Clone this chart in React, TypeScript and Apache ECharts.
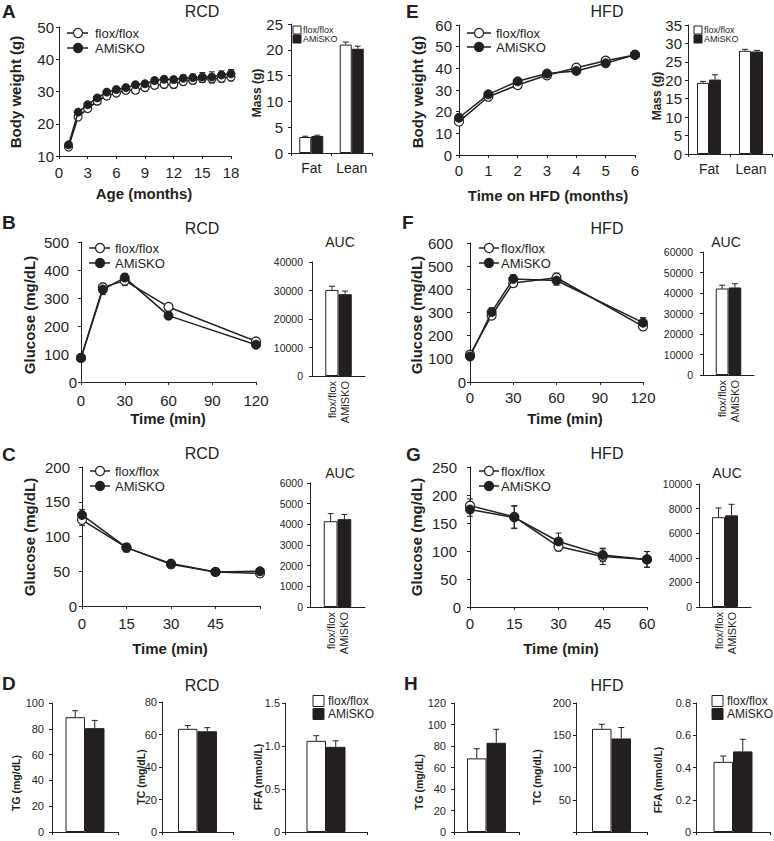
import React, { useEffect, useRef } from "react";
import * as echarts from "echarts";

const FONT = "'Liberation Sans', Arial, Helvetica, sans-serif";
const INK = "#231f20";

// ---------- Panel A (RCD body weight) ----------
const aMonths = [1, 2, 3, 4, 5, 6, 7, 8, 9, 10, 11, 12, 13, 14, 15, 16, 17, 18];
const aFlox = [12.8, 22.1, 24.7, 27.0, 28.6, 29.5, 30.4, 30.4, 31.2, 31.9, 32.2, 32.2, 33.1, 33.5, 34.0, 33.9, 34.1, 34.5];
const aFloxErr = [0.6, 0.8, 0.8, 0.8, 0.9, 0.9, 0.9, 0.9, 1.0, 1.0, 1.0, 1.1, 1.1, 1.2, 1.2, 1.2, 1.2, 1.2];
const aKo = [13.5, 23.6, 25.9, 28.0, 29.8, 30.6, 31.2, 32.1, 32.4, 33.4, 33.8, 33.7, 34.1, 34.3, 34.5, 34.5, 35.1, 35.5];
const aKoErr = [0.6, 0.8, 0.8, 0.8, 0.8, 0.8, 0.8, 0.8, 0.8, 0.9, 0.9, 0.9, 1.0, 1.1, 1.4, 1.6, 1.3, 1.3];
const massCats = ["Fat", "Lean"];
const aMassFlox = [3.1, 21.0];
const aMassFloxErr = [0.15, 0.5];
const aMassKo = [3.3, 20.2];
const aMassKoErr = [0.15, 0.5];

// ---------- Panel E (HFD body weight) ----------
const eMonths = [0, 1, 2, 3, 4, 5, 6];
const eFlox = [15.4, 26.9, 32.3, 36.8, 40.3, 43.5, 46.2];
const eFloxErr = [1.2, 1.0, 1.0, 1.0, 1.2, 1.0, 1.0];
const eKo = [17.2, 28.0, 34.0, 37.6, 38.8, 42.3, 46.3];
const eKoErr = [1.2, 1.0, 1.0, 1.2, 1.2, 1.0, 1.0];
const eMassFlox = [19.3, 28.0];
const eMassFloxErr = [0.4, 0.4];
const eMassKo = [20.2, 27.8];
const eMassKoErr = [1.3, 0.3];

// ---------- GTT (B: RCD, F: HFD) ----------
const gttTime = [0, 15, 30, 60, 120];
const bFlox = [86, 338, 362, 268, 145];
const bFloxErr = [8, 15, 18, 10, 8];
const bKo = [86, 330, 373, 237, 133];
const bKoErr = [8, 18, 15, 12, 8];
const bAuc = [30200, 28700];
const bAucErr = [1300, 1100];
const fFlox = [118, 287, 427, 450, 240];
const fFloxErr = [10, 15, 15, 20, 18];
const fKo = [110, 302, 445, 438, 256];
const fKoErr = [8, 18, 18, 20, 22];
const fAuc = [42200, 42700];
const fAucErr = [1600, 1800];

// ---------- ITT (C: RCD, G: HFD) ----------
const ittTime = [0, 15, 30, 45, 60];
const cFlox = [124, 84, 60, 49, 47];
const cFloxErr = [8, 6, 5, 4, 4];
const cKo = [131, 84, 61, 49, 50];
const cKoErr = [8, 6, 5, 4, 3];
const cAuc = [4150, 4250];
const cAucErr = [370, 230];
const gFlox = [181, 161, 108, 90, 85];
const gFloxErr = [12, 20, 8, 14, 14];
const gKo = [174, 160, 117, 93, 85];
const gKoErr = [12, 20, 15, 12, 14];
const gAuc = [7300, 7450];
const gAucErr = [750, 900];

// ---------- Lipids (D: RCD, H: HFD) ; [flox, AMiSKO] ----------
const dTG = [89, 80.5];
const dTGErr = [5, 6];
const dTC = [63.5, 62];
const dTCErr = [2, 2.2];
const dFFA = [1.06, 0.99];
const dFFAErr = [0.06, 0.07];
const hTG = [68.5, 83];
const hTGErr = [9, 12.5];
const hTC = [160, 145];
const hTCErr = [7, 17];
const hFFA = [0.435, 0.5];
const hFFAErr = [0.036, 0.075];

const aucCats = [" ", "flox/flox", "AMiSKO", "  "];

function buildOption() {
  const grid: any[] = [];
  const xAxis: any[] = [];
  const yAxis: any[] = [];
  const series: any[] = [];
  const graphic: any[] = [];
  const ls = { color: INK, width: 1 };

  const addGrid = (r: number[]) => {
    grid.push({ left: r[0], top: r[1], width: r[2], height: r[3], containLabel: false });
    return grid.length - 1;
  };

  const labelStyle = (size: number, margin: number) => ({
    color: INK,
    fontFamily: FONT,
    fontSize: size,
    margin,
  });

  const plain = (v: number) => String(v);

  const yVal = (gi: number, min: number, max: number, interval: number, o: any = {}) => {
    const size = o.size ?? 15;
    const al: any = { ...labelStyle(size, o.margin ?? 6), showMinLabel: true, showMaxLabel: true };
    const fmt0 = o.fmt || plain;
    if (o.pad) {
      al.formatter = (v: number) => (v === 0 ? fmt0(v) : `{p|${fmt0(v)}}`);
      al.rich = { p: { padding: [0, o.pad, 0, 0], fontSize: size, fontFamily: FONT, color: INK } };
    } else {
      al.formatter = fmt0;
    }
    yAxis.push({
      type: "value",
      gridIndex: gi,
      min,
      max,
      interval,
      axisLine: { show: true, onZero: false, lineStyle: ls },
      axisTick: { show: true, length: 3, lineStyle: ls },
      splitLine: { show: false },
      axisLabel: al,
    });
  };

  const errSeries = (gi: number, data: any[], z: number) => ({
    type: "custom",
    xAxisIndex: gi,
    yAxisIndex: gi,
    data,
    z,
    silent: true,
    encode: { x: 0, y: 1 },
    renderItem: (_p: any, api: any) => {
      const x = api.value(0);
      const y = api.value(1);
      const e = api.value(2);
      const off = api.value(3);
      const both = api.value(4);
      const c = api.coord([x, y]);
      const t = api.coord([x, y + e]);
      const b = api.coord([x, y - e]);
      const px = c[0] + off;
      const cap = 3;
      const st = { stroke: INK, lineWidth: 1 };
      const children: any[] = [
        { type: "line", shape: { x1: px, y1: t[1], x2: px, y2: both ? b[1] : c[1] }, style: st },
        { type: "line", shape: { x1: px - cap, y1: t[1], x2: px + cap, y2: t[1] }, style: st },
      ];
      if (both) children.push({ type: "line", shape: { x1: px - cap, y1: b[1], x2: px + cap, y2: b[1] }, style: st });
      return { type: "group", children };
    },
  });

  const linePanel = (p: any) => {
    const gi = addGrid(p.rect);
    xAxis.push({
      type: "value",
      gridIndex: gi,
      min: p.x[0],
      max: p.x[1],
      interval: p.x[2],
      axisLine: { show: true, onZero: false, lineStyle: ls },
      axisTick: { show: true, length: 3, lineStyle: ls },
      splitLine: { show: false },
      axisLabel: { ...labelStyle(15, p.xMargin), formatter: p.xFmt || plain, showMinLabel: true, showMaxLabel: true },
    });
    yVal(gi, p.y[0], p.y[1], p.y[2], { margin: p.yMargin, pad: p.yPad });
    const xs: number[] = p.xs;
    series.push(errSeries(gi, xs.map((x, i) => [x, p.flox[i], p.floxErr[i], 0, 1]), 2));
    series.push(errSeries(gi, xs.map((x, i) => [x, p.ko[i], p.koErr[i], 0, 1]), 2));
    series.push({
      type: "line",
      name: "flox/flox",
      xAxisIndex: gi,
      yAxisIndex: gi,
      data: xs.map((x, i) => [x, p.flox[i]]),
      symbol: "circle",
      symbolSize: p.sym,
      lineStyle: { color: INK, width: 1.5 },
      itemStyle: { color: "#ffffff", borderColor: INK, borderWidth: 1.2 },
      z: 3,
    });
    series.push({
      type: "line",
      name: "AMiSKO",
      xAxisIndex: gi,
      yAxisIndex: gi,
      data: xs.map((x, i) => [x, p.ko[i]]),
      symbol: "circle",
      symbolSize: p.sym,
      lineStyle: { color: INK, width: 1.5 },
      itemStyle: { color: INK, borderColor: INK, borderWidth: 1 },
      z: 4,
    });
  };

  const groupBars = (gi: number, flox: any[], ko: any[], w: number) => {
    series.push({
      type: "bar",
      name: "flox/flox",
      xAxisIndex: gi,
      yAxisIndex: gi,
      data: flox,
      barWidth: w,
      barGap: "0%",
      itemStyle: { color: "#ffffff", borderColor: INK, borderWidth: 1 },
      z: 2,
    });
    series.push({
      type: "bar",
      name: "AMiSKO",
      xAxisIndex: gi,
      yAxisIndex: gi,
      data: ko,
      barWidth: w,
      barGap: "0%",
      itemStyle: { color: INK, borderColor: INK, borderWidth: 1 },
      z: 2,
    });
  };

  const massPanel = (p: any) => {
    const gi = addGrid(p.rect);
    xAxis.push({
      type: "category",
      gridIndex: gi,
      data: massCats,
      axisLine: { show: true, lineStyle: ls },
      axisTick: { show: true, length: 3, lineStyle: ls },
      axisLabel: { ...labelStyle(14, 8), interval: 0 },
    });
    yVal(gi, 0, p.yMax, 5, { margin: p.yMargin });
    groupBars(gi, p.flox, p.ko, 12);
    series.push(errSeries(gi, p.flox.map((v: number, i: number) => [i, v, p.floxErr[i], -6, 0]), 5));
    series.push(errSeries(gi, p.ko.map((v: number, i: number) => [i, v, p.koErr[i], 6, 0]), 5));
  };

  const aucPanel = (p: any) => {
    const gi = addGrid(p.rect);
    xAxis.push({
      type: "category",
      gridIndex: gi,
      data: aucCats,
      axisLine: { show: true, lineStyle: ls },
      axisTick: { show: false },
      axisLabel: { ...labelStyle(11, 5), interval: 0, rotate: 90 },
    });
    yVal(gi, 0, p.y[1], p.y[2], { size: 10.5, margin: p.yMargin });
    series.push({
      type: "bar",
      xAxisIndex: gi,
      yAxisIndex: gi,
      barCategoryGap: "0%",
      data: [
        "-",
        { value: p.vals[0], itemStyle: { color: "#ffffff", borderColor: INK, borderWidth: 1 } },
        { value: p.vals[1], itemStyle: { color: INK, borderColor: INK, borderWidth: 1 } },
        "-",
      ],
      z: 2,
    });
    series.push(errSeries(gi, [[1, p.vals[0], p.errs[0], 0, 0], [2, p.vals[1], p.errs[1], 0, 0]], 5));
  };

  const lipidPanel = (p: any) => {
    const gi = addGrid(p.rect);
    xAxis.push({
      type: "category",
      gridIndex: gi,
      data: [""],
      axisLine: { show: true, lineStyle: ls },
      axisTick: { show: true, length: 3, lineStyle: ls },
      axisLabel: { show: false },
    });
    yVal(gi, 0, p.y[1], p.y[2], { size: 11, margin: p.yMargin, fmt: p.fmt });
    groupBars(gi, [p.vals[0]], [p.vals[1]], 19.5);
    series.push(errSeries(gi, [[0, p.vals[0], p.errs[0], -9.75, 0]], 5));
    series.push(errSeries(gi, [[0, p.vals[1], p.errs[1], 9.75, 0]], 5));
  };

  // ----- panels -----
  linePanel({ rect: [59, 27, 172, 129], x: [0, 18, 3], y: [10, 50, 10], xs: aMonths, flox: aFlox, floxErr: aFloxErr, ko: aKo, koErr: aKoErr, xMargin: 9, yMargin: 5, sym: 8 });
  massPanel({ rect: [291, 24, 81, 129], yMax: 25, flox: aMassFlox, floxErr: aMassFloxErr, ko: aMassKo, koErr: aMassKoErr, yMargin: 8 });
  linePanel({ rect: [459, 25, 176, 130], x: [0, 6, 1], y: [0, 60, 10], xs: eMonths, flox: eFlox, floxErr: eFloxErr, ko: eKo, koErr: eKoErr, xMargin: 8, yMargin: 7, sym: 9 });
  massPanel({ rect: [688, 25, 84, 129], yMax: 35, flox: eMassFlox, floxErr: eMassFloxErr, ko: eMassKo, koErr: eMassKoErr, yMargin: 6 });

  linePanel({ rect: [81, 242, 175, 140], x: [0, 120, 30], y: [0, 500, 100], xs: gttTime, flox: bFlox, floxErr: bFloxErr, ko: bKo, koErr: bKoErr, xMargin: 11, yMargin: 4, yPad: 8, sym: 9 });
  aucPanel({ rect: [312, 262, 53, 114], y: [0, 40000, 10000], vals: bAuc, errs: bAucErr, yMargin: 9 });
  linePanel({ rect: [470, 243, 173, 139], x: [0, 120, 30], y: [0, 600, 100], xs: gttTime, flox: fFlox, floxErr: fFloxErr, ko: fKo, koErr: fKoErr, xMargin: 8, yMargin: 4, yPad: 13, sym: 9 });
  aucPanel({ rect: [703, 252, 51, 123], y: [0, 60000, 10000], vals: fAuc, errs: fAucErr, yMargin: 10 });

  linePanel({ rect: [82, 467, 178, 139], x: [0, 60, 15], y: [0, 200, 50], xs: ittTime, flox: cFlox, floxErr: cFloxErr, ko: cKo, koErr: cKoErr, xMargin: 10, yMargin: 5, yPad: 7, sym: 9, xFmt: (v: number) => (v === 60 ? "" : String(v)) });
  aucPanel({ rect: [310, 483, 55, 124], y: [0, 6000, 1000], vals: cAuc, errs: cAucErr, yMargin: 7 });
  linePanel({ rect: [470, 467, 177, 140], x: [0, 60, 15], y: [0, 250, 50], xs: ittTime, flox: gFlox, floxErr: gFloxErr, ko: gKo, koErr: gKoErr, xMargin: 9, yMargin: 9, yPad: 4, sym: 9 });
  aucPanel({ rect: [699, 484, 52, 123], y: [0, 10000, 2000], vals: gAuc, errs: gAucErr, yMargin: 7 });

  const fmt1 = (v: number) => (v === 0 ? "0" : v.toFixed(1));
  lipidPanel({ rect: [52, 703, 66, 129], y: [0, 100, 20], vals: dTG, errs: dTGErr, yMargin: 8 });
  lipidPanel({ rect: [162, 702, 71, 130], y: [0, 80, 20], vals: dTC, errs: dTCErr, yMargin: 5 });
  lipidPanel({ rect: [285, 703, 82, 129], y: [0, 1.5, 0.5], vals: dFFA, errs: dFFAErr, yMargin: 5, fmt: fmt1 });
  lipidPanel({ rect: [454, 703, 65, 129], y: [0, 120, 20], vals: hTG, errs: hTGErr, yMargin: 8 });
  lipidPanel({ rect: [576, 703, 71, 129], y: [0, 200, 50], vals: hTC, errs: hTCErr, yMargin: 5, fmt: (v: number) => (v === 0 ? "" : String(v)) });
  lipidPanel({ rect: [696, 703, 74, 129], y: [0, 0.8, 0.2], vals: hFFA, errs: hFFAErr, yMargin: 5, fmt: fmt1 });

  // ----- texts -----
  const txt = (text: string, x: number, y: number, size: number, bold = false, rot = 0, align = "center") => {
    graphic.push({
      type: "text",
      x,
      y,
      rotation: rot,
      silent: true,
      style: {
        text,
        fill: INK,
        fontFamily: FONT,
        fontSize: size,
        fontWeight: bold ? "bold" : "normal",
        align,
        verticalAlign: "middle",
        textAlign: align,
        textVerticalAlign: "middle",
      },
    });
  };
  const R = Math.PI / 2;

  // panel letters
  [["A", 2, 11], ["E", 406, 11], ["B", 2, 222], ["F", 402, 222], ["C", 2, 454], ["G", 406, 454], ["D", 2, 683], ["H", 404, 683]].forEach(
    (l: any) => txt(l[0], l[1], l[2], 19, true, 0, "left")
  );
  // diet titles
  [["RCD", 202, 11], ["HFD", 607, 11], ["RCD", 202, 228], ["HFD", 607, 228], ["RCD", 202, 453], ["HFD", 607, 453], ["RCD", 202, 685], ["HFD", 607, 685]].forEach(
    (l: any) => txt(l[0], l[1], l[2], 16)
  );
  [[340, 242], [726, 242], [340, 473], [727, 473]].forEach((p) => txt("AUC", p[0], p[1], 14));

  // axis titles
  txt("Body weight (g)", 15, 92, 15, true, R);
  txt("Body weight (g)", 417, 92, 15, true, R);
  txt("Age (months)", 144, 193, 15, true);
  txt("Time on HFD (months)", 548, 195, 15, true);
  txt("Mass (g)", 257, 93, 12, true, R);
  txt("Mass (g)", 657, 96, 12, true, R);
  txt("Glucose (mg/dL)", 29, 315, 15, true, R);
  txt("Glucose (mg/dL)", 416, 315, 15, true, R);
  txt("Glucose (mg/dL)", 29, 537, 15, true, R);
  txt("Glucose (mg/dL)", 416, 537, 15, true, R);
  txt("Time (min)", 168, 418, 15, true);
  txt("Time (min)", 565, 418, 15, true);
  txt("Time (min)", 170, 648, 15, true);
  txt("Time (min)", 561, 648, 15, true);
  txt("TG (mg/dL)", 16, 783, 10.5, true, R);
  txt("TC (mg/dL)", 141, 777, 10.5, true, R);
  txt("FFA (mmol/L)", 258, 777, 10.5, true, R);
  txt("TG (mg/dL)", 419, 782, 10.5, true, R);
  txt("TC (mg/dL)", 537, 777, 10.5, true, R);
  txt("FFA (mmol/L)", 658, 780, 10.5, true, R);

  // line legends
  const lineLegend = (x1: number, x2: number, cx: number, tx: number, y1: number, y2: number) => {
    [[y1, false, "flox/flox"], [y2, true, "AMiSKO"]].forEach((it: any) => {
      const y = it[0];
      graphic.push({ type: "line", silent: true, shape: { x1, y1: y, x2, y2: y }, style: { stroke: INK, lineWidth: 1.5 } });
      graphic.push({
        type: "circle",
        silent: true,
        shape: { cx, cy: y, r: 4.5 },
        style: { fill: it[1] ? INK : "#ffffff", stroke: INK, lineWidth: 1.2 },
      });
      txt(it[2], tx, y, 13, false, 0, "left");
    });
  };
  lineLegend(67, 88, 78, 95, 33, 48);
  lineLegend(467, 491, 479, 496, 33, 47);
  lineLegend(89, 110, 100, 115, 248, 263);
  lineLegend(479, 499, 489, 501, 248, 263);
  lineLegend(90, 110, 100, 115, 471, 486);
  lineLegend(479, 499, 489, 501, 471, 486);

  // box legends
  const boxLegend = (bx: number, tx: number, y1: number, y2: number, s: number, fs: number) => {
    [[y1, false, "flox/flox"], [y2, true, "AMiSKO"]].forEach((it: any) => {
      graphic.push({
        type: "rect",
        silent: true,
        shape: { x: bx, y: it[0] - s / 2, width: s, height: s },
        style: { fill: it[1] ? INK : "#ffffff", stroke: INK, lineWidth: 1 },
      });
      txt(it[2], tx, it[0], fs, false, 0, "left");
    });
  };
  boxLegend(293, 303, 30, 39, 8, 9);
  boxLegend(694, 704, 30, 39, 8, 9);
  boxLegend(313, 328, 701, 714, 11, 12);
  boxLegend(712, 727, 701, 714, 11, 12);

  return {
    animation: false,
    backgroundColor: "#ffffff",
    textStyle: { fontFamily: FONT },
    grid,
    xAxis,
    yAxis,
    series,
    graphic: { elements: graphic },
  };
}

export default function App() {
  const ref = useRef<HTMLDivElement>(null);
  useEffect(() => {
    if (!ref.current) return;
    const chart = echarts.init(ref.current, null, { renderer: "svg" });
    chart.setOption(buildOption() as any);
    return () => {
      chart.dispose();
    };
  }, []);
  return (
    <div
      ref={ref}
      style={{ position: "absolute", left: 0, top: 0, width: 774, height: 841, background: "#ffffff" }}
    />
  );
}
